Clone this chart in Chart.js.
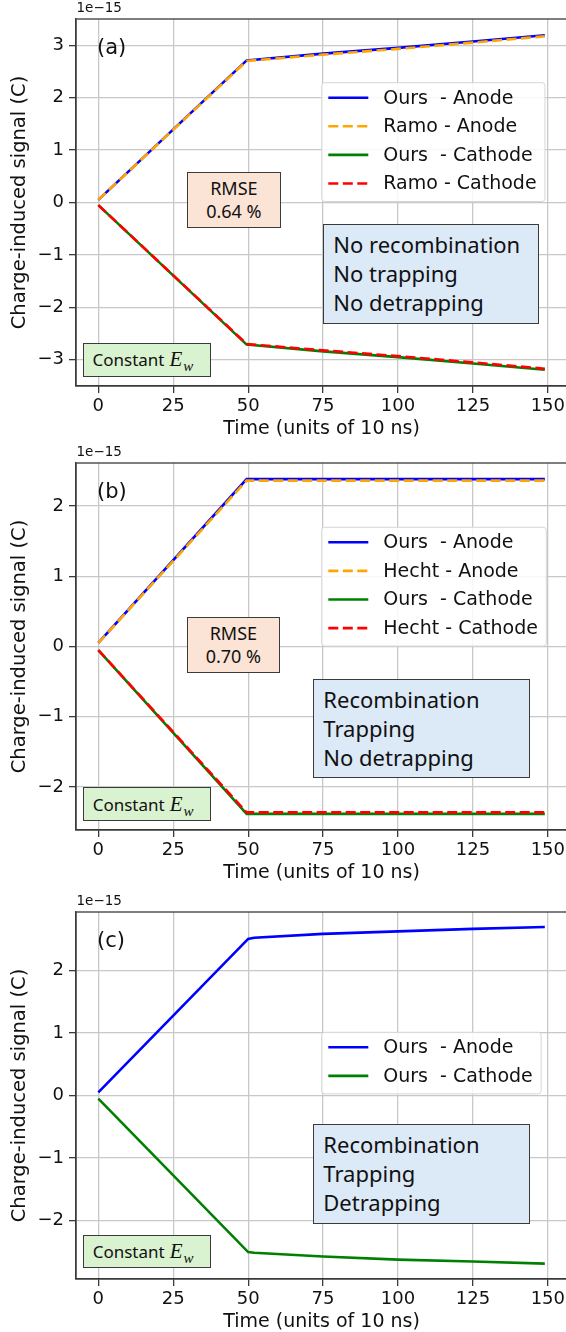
<!DOCTYPE html>
<html>
<head>
<meta charset="utf-8">
<script src="https://cdn.jsdelivr.net/npm/chart.js@4.4.1/dist/chart.umd.min.js"></script>
<style>
html, body { margin: 0; padding: 0; background: #fff; overflow: hidden; }
body { width: 566px; height: 1332px; position: relative; }
canvas { position: absolute; left: 0; }
.box { position: absolute; box-sizing: border-box; border: 1.3px solid #3b3b3b; font-family: 'Noto Sans', sans-serif; color: #111; z-index: 2; }
.rmse { background: #fbe3d6; display: flex; flex-direction: column; justify-content: center; align-items: center; font-size: 18px; line-height: 23px; }
.cond { background: #dce9f7; font-size: 22px; line-height: 29px; padding: 5px 0 0 9px; white-space: nowrap; }
.ew { background: #d9f2d0; font-size: 17px; display: flex; align-items: center; padding-left: 9px; white-space: nowrap; }
.ew .m { font-family: 'Liberation Serif', serif; font-style: italic; font-size: 21px; margin-left: 5px; }
.ew .s { font-family: 'Liberation Serif', serif; font-style: italic; font-size: 15px; position: relative; top: 5px; margin-left: 1px; }
</style>
</head>
<body>
<canvas id="chartA" width="568" height="440" style="top:0px"></canvas>
<canvas id="chartB" width="568" height="440" style="top:444px"></canvas>
<canvas id="chartC" width="568" height="440" style="top:893px"></canvas>

<script>
// ---- data (values in units of 1e-15 C) ----
const xTicks = [0, 25, 50, 75, 100, 125, 150];
const yTicksA = [-3, -2, -1, 0, 1, 2, 3];
const yTicksBC = [-2, -1, 0, 1, 2];

// (a) no recombination / trapping / detrapping
const timeA = [0, 49.5, 75, 100, 125, 149];
const oursAnodeA = [0.05, 2.71, 2.84, 2.95, 3.07, 3.19];
const ramoAnodeA = [0.05, 2.70, 2.82, 2.93, 3.05, 3.17];
const oursCathodeA = [-0.05, -2.71, -2.84, -2.95, -3.07, -3.19];
const ramoCathodeA = [-0.05, -2.70, -2.82, -2.93, -3.05, -3.17];
const labelsA = ['Ours  - Anode', 'Ramo - Anode', 'Ours  - Cathode', 'Ramo - Cathode'];

// (b) recombination + trapping
const timeB = [0, 49.5, 149];
const oursAnodeB = [0.05, 2.38, 2.38];
const hechtAnodeB = [0.05, 2.36, 2.36];
const oursCathodeB = [-0.05, -2.38, -2.38];
const hechtCathodeB = [-0.05, -2.36, -2.36];
const labelsB = ['Ours  - Anode', 'Hecht - Anode', 'Ours  - Cathode', 'Hecht - Cathode'];

// (c) recombination + trapping + detrapping
const timeC = [0, 50, 52, 75, 100, 125, 149];
const oursAnodeC = [0.05, 2.50, 2.52, 2.58, 2.62, 2.66, 2.69];
const oursCathodeC = [-0.05, -2.50, -2.51, -2.57, -2.62, -2.65, -2.685];
const labelsC = ['Ours  - Anode', 'Ours  - Cathode'];

const rmseText = { a: '0.64 %', b: '0.70 %' };
const conditionsA = ['No recombination', 'No trapping', 'No detrapping'];
const conditionsB = ['Recombination', 'Trapping', 'No detrapping'];
const conditionsC = ['Recombination', 'Trapping', 'Detrapping'];

// ---- styles ----
const DASH = [10, 4.5];
const lineStyles = {
    oursAnode: { color: '#0000ff', dash: [] },
    refAnode: { color: '#ffa500', dash: DASH },
    oursCathode: { color: '#008000', dash: [] },
    refCathode: { color: '#ff0000', dash: DASH }
};
const FRAME = '#3a3a3a';
const GRID = '#c8c8c8';

const fmtTick = v => (v < 0 ? '\u2212' + Math.abs(v) : String(v));

// legend drawn inside the axes, matplotlib-like
const legendBox = {
    id: 'legendBox',
    afterDatasetsDraw(chart, args, opts) {
        const ctx = chart.ctx, a = chart.chartArea;
        const sets = chart.data.datasets;
        ctx.save();
        ctx.font = '19px "DejaVu Sans"';
        const textW = Math.max(...sets.map(d => ctx.measureText(d.label).width));
        const left = opts.left, top = a.top + opts.top;
        const w = 6.6 + 40 + 15 + textW + 8.4;
        const h = 15 + 28.6 * (sets.length - 1) + 18;
        ctx.beginPath();
        ctx.roundRect(left, top, w, h, 3);
        ctx.fillStyle = 'rgba(255,255,255,0.85)';
        ctx.fill();
        ctx.strokeStyle = '#d6d6d6';
        ctx.lineWidth = 1;
        ctx.stroke();
        sets.forEach((d, i) => {
            const y = top + 15 + 28.6 * i;
            ctx.beginPath();
            ctx.setLineDash(d.borderDash || []);
            ctx.strokeStyle = d.borderColor;
            ctx.lineWidth = 2.6;
            ctx.moveTo(left + 6.6, y);
            ctx.lineTo(left + 46.6, y);
            ctx.stroke();
            ctx.setLineDash([]);
            ctx.fillStyle = '#111';
            ctx.textBaseline = 'middle';
            ctx.textAlign = 'left';
            ctx.fillText(d.label, left + 61.6, y + 1);
        });
        ctx.restore();
    }
};

// frame, offset text and panel letter
const panelText = {
    id: 'panelText',
    afterDraw(chart, args, opts) {
        const ctx = chart.ctx, a = chart.chartArea;
        ctx.save();
        ctx.strokeStyle = FRAME;
        ctx.lineWidth = 1.3;
        ctx.strokeRect(a.left, a.top, a.right - a.left, a.bottom - a.top);
        ctx.fillStyle = '#111';
        ctx.textBaseline = 'middle';
        ctx.textAlign = 'left';
        ctx.font = '13.5px "DejaVu Sans"';
        ctx.fillText('1e\u221215', a.left + 0.5, a.top - 10.5);
        ctx.font = '21px "DejaVu Sans"';
        ctx.fillText(opts.label, a.left + 21, a.top + 29.5);
        ctx.restore();
    }
};

function makeSeries(time, values, label, style, idx, n) {
    return {
        label: label,
        data: time.map((t, i) => ({ x: t, y: values[i] })),
        borderColor: style.color,
        borderDash: style.dash,
        borderWidth: 2.6,
        pointRadius: 0,
        tension: 0,
        fill: false,
        order: n - idx
    };
}

function makeChart(canvasId, cfg) {
    const n = cfg.series.length;
    const datasets = cfg.series.map((vals, i) =>
        makeSeries(cfg.time, vals, cfg.labels[i], cfg.styles[i], i, n));
    return new Chart(document.getElementById(canvasId), {
        type: 'line',
        data: { datasets },
        plugins: [panelText, legendBox],
        options: {
            responsive: false,
            animation: false,
            devicePixelRatio: 1,
            layout: { padding: { top: 19, left: 0, right: 0, bottom: 0 } },
            plugins: {
                legend: { display: false },
                tooltip: { enabled: false },
                panelText: { label: cfg.panel },
                legendBox: { left: 321.7, top: cfg.legendTop }
            },
            scales: {
                x: {
                    type: 'linear',
                    min: -7.45,
                    max: 156.45,
                    afterBuildTicks: s => { s.ticks = xTicks.map(v => ({ value: v })); },
                    afterFit: s => { s.height = 54; },
                    ticks: { font: { family: 'DejaVu Sans', size: 18 }, color: '#111', padding: 3, maxRotation: 0, callback: fmtTick },
                    grid: { color: GRID, lineWidth: 1.3, tickColor: FRAME, tickLength: 7 },
                    border: { display: true, color: FRAME, width: 1.3 },
                    title: { display: true, text: 'Time (units of 10 ns)', color: '#111', font: { family: 'DejaVu Sans', size: 19 }, padding: { top: 0, bottom: 0 } }
                },
                y: {
                    type: 'linear',
                    min: cfg.yMin,
                    max: cfg.yMax,
                    afterBuildTicks: s => { s.ticks = cfg.yTicks.map(v => ({ value: v })); },
                    afterFit: s => { s.width = 76; },
                    ticks: { font: { family: 'DejaVu Sans', size: 18 }, color: '#111', padding: 5, callback: fmtTick },
                    grid: { color: GRID, lineWidth: 1.3, tickColor: FRAME, tickLength: 7 },
                    border: { display: true, color: FRAME, width: 1.3 },
                    title: { display: true, text: 'Charge-induced signal (C)', color: '#111', font: { family: 'DejaVu Sans', size: 19.5 }, padding: { top: 8.3, bottom: 0 } }
                }
            }
        }
    });
}

makeChart('chartA', {
    panel: '(a)', yMin: -3.5, yMax: 3.5, yTicks: yTicksA, time: timeA,
    series: [oursAnodeA, ramoAnodeA, oursCathodeA, ramoCathodeA], labels: labelsA,
    styles: [lineStyles.oursAnode, lineStyles.refAnode, lineStyles.oursCathode, lineStyles.refCathode],
    legendTop: 63.7
});
makeChart('chartB', {
    panel: '(b)', yMin: -2.61, yMax: 2.61, yTicks: yTicksBC, time: timeB,
    series: [oursAnodeB, hechtAnodeB, oursCathodeB, hechtCathodeB], labels: labelsB,
    styles: [lineStyles.oursAnode, lineStyles.refAnode, lineStyles.oursCathode, lineStyles.refCathode],
    legendTop: 64.3
});
makeChart('chartC', {
    panel: '(c)', yMin: -2.93, yMax: 2.93, yTicks: yTicksBC, time: timeC,
    series: [oursAnodeC, oursCathodeC], labels: labelsC,
    styles: [lineStyles.oursAnode, lineStyles.oursCathode],
    legendTop: 120.3
});

// overlay text boxes (page coordinates)
function addBox(cls, pos, html) {
    const el = document.createElement('div');
    el.className = 'box ' + cls;
    el.style.left = pos[0] + 'px';
    el.style.top = pos[1] + 'px';
    el.style.width = pos[2] + 'px';
    el.style.height = pos[3] + 'px';
    el.innerHTML = html;
    document.body.appendChild(el);
}
const ewHtml = '<span>Constant<span class="m">E</span><span class="s">w</span></span>';

addBox('rmse', [186.7, 171.7, 94.3, 56.6], '<div>RMSE</div><div>' + rmseText.a + '</div>');
addBox('rmse', [186.7, 616.7, 93.3, 56.6], '<div>RMSE</div><div>' + rmseText.b + '</div>');
addBox('cond', [323.3, 224, 216.1, 99.7], conditionsA.join('<br>'));
addBox('cond', [313.3, 679, 216.7, 99.3], conditionsB.join('<br>'));
addBox('cond', [313.3, 1124.3, 216.7, 99.7], conditionsC.join('<br>'));
addBox('ew', [82.5, 343.3, 128.5, 33.4], ewHtml);
addBox('ew', [82.7, 787.3, 128.3, 33.7], ewHtml);
addBox('ew', [82.7, 1235, 128.3, 33.3], ewHtml);
</script>
</body>
</html>
